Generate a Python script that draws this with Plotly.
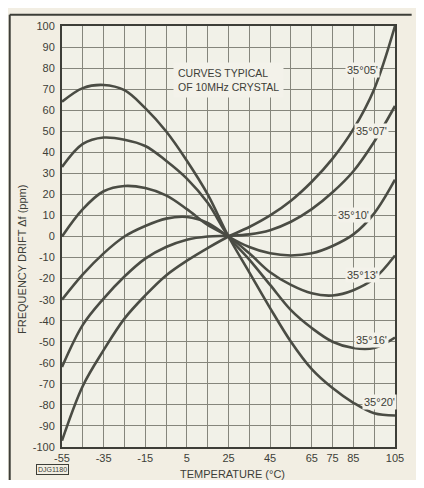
import plotly.graph_objects as go

# Temperatur (°C) och frekvensdrift (ppm) avlästa ur originalet
temperatur = [-55, -45, -35, -25, -15, -5, 5, 15, 25, 35, 45, 55, 65, 75, 85, 95, 105]

drift_35_05 = [-97, -71, -54, -39, -28, -18.5, -11.5, -5.5, 0, 4.5, 10, 17, 26, 37, 51, 70, 100]
drift_35_07 = [-62, -42, -29.5, -19, -10.5, -5, -1.5, 0, 0.3, 1, 3, 7, 13, 21, 31, 45, 62]
drift_35_10 = [-30, -18, -8, 0, 5, 8.5, 9.3, 6.5, 0, -5, -8, -9, -8, -4.5, 1, 11, 27]
drift_35_13 = [0, 13, 21.5, 24, 23, 19.5, 13, 5.5, 0, -8, -17, -23, -27, -28, -25.5, -20, -9]
drift_35_16 = [33, 44, 47, 46, 43, 36, 27.5, 16, 0, -11, -23, -35, -43.5, -50, -53, -53, -48]
drift_35_20 = [64, 70.5, 72, 69.5, 61, 50, 36, 20, 0, -17, -34, -50, -63, -72, -79, -84, -85]

kurvor = [drift_35_05, drift_35_07, drift_35_10, drift_35_13, drift_35_16, drift_35_20]
etiketter = ["35°05'", "35°07'", "35°10'", "35°13'", "35°16'", "35°20'"]
etikett_x = [89.4, 93.6, 85.1, 89.4, 93.6, 97.4]
etikett_y = [78.9, 50.2, 10.3, -18.3, -49.3, -78.4]

x_ticks = [-55, -35, -15, 5, 25, 45, 65, 75, 85, 105]
x_grid = [-55, -45, -35, -25, -15, -5, 5, 15, 25, 35, 45, 55, 65, 75, 85, 95, 105]
y_ticks = [100, 90, 80, 70, 60, 50, 40, 30, 20, 10, 0, -10, -20, -30, -40, -50, -60, -70, -80, -90, -100]

PAPER = "#f2eee3"
GRID = "#85867c"
INK = "#3d3e38"
FONT = "Liberation Sans, Arial, sans-serif"

fig = go.Figure()

for kurva in kurvor:
    fig.add_trace(go.Scatter(
        x=temperatur, y=kurva, mode="lines",
        line=dict(color="#4a4c44", width=2.6, shape="spline", smoothing=1.0),
        showlegend=False, hoverinfo="skip",
    ))

# -- Kurvetiketter
for text, tx, ty in zip(etiketter, etikett_x, etikett_y):
    fig.add_annotation(x=tx, y=ty, text=text, showarrow=False,
                       font=dict(family=FONT, size=11, color=INK),
                       bgcolor="#f3f2ea", borderpad=1)

fig.add_annotation(x=25, y=74.5, text="CURVES TYPICAL<br>OF 10MHz CRYSTAL", showarrow=False,
                   font=dict(family=FONT, size=10.5, color=INK),
                   bgcolor="#f3f2ea", borderpad=4, align="left")

# -- Axeltitlar
fig.add_annotation(xref="paper", yref="paper", x=-0.118, y=0.446, xanchor="center", yanchor="middle",
                   text="FREQUENCY DRIFT Δf (ppm)", textangle=-90, showarrow=False,
                   font=dict(family=FONT, size=11, color=INK))
fig.add_annotation(xref="paper", yref="paper", x=0.512, y=-0.063, xanchor="center", yanchor="middle",
                   text="TEMPERATURE (°C)", showarrow=False,
                   font=dict(family=FONT, size=11, color=INK))
fig.add_annotation(xref="paper", yref="paper", x=-0.03, y=-0.054, xanchor="center", yanchor="middle",
                   text="DJG1180", showarrow=False, font=dict(family=FONT, size=7, color=INK),
                   bordercolor=INK, borderwidth=1, borderpad=1)

# -- Ram runt bilden (topp och vänster)
fig.add_shape(type="line", xref="paper", yref="paper", x0=-0.157, x1=1.05, y0=1.027, y1=1.027,
              line=dict(color=INK, width=2))
fig.add_shape(type="line", xref="paper", yref="paper", x0=-0.157, x1=-0.157, y0=1.027, y1=-0.08,
              line=dict(color=INK, width=2))

fig.update_xaxes(
    range=[-55, 105], tickmode="array", tickvals=x_ticks, ticktext=[str(v) for v in x_ticks],
    showgrid=True, gridcolor=GRID, gridwidth=1,
    minor=dict(tickmode="array", tickvals=x_grid, showgrid=True, gridcolor=GRID, gridwidth=1),
    showline=True, mirror=True, linecolor=INK, linewidth=2,
    ticks="", tickfont=dict(family=FONT, size=11, color=INK), zeroline=False,
)
fig.update_yaxes(
    range=[-100, 100], tickmode="array", tickvals=y_ticks, ticktext=[str(v) for v in y_ticks],
    showgrid=True, gridcolor=GRID, gridwidth=1,
    showline=True, mirror=True, linecolor=INK, linewidth=2,
    ticks="outside", ticklen=3, tickcolor="rgba(0,0,0,0)",
    tickfont=dict(family=FONT, size=11, color=INK), zeroline=False,
)

# Sidan har 8 px marginal i webbläsaren, därför 408x472
fig.update_layout(
    width=408, height=472,
    margin=dict(l=54, r=16, t=13, b=33),
    paper_bgcolor=PAPER, plot_bgcolor="#f1f1e8",
)

fig.write_html("out.html")
